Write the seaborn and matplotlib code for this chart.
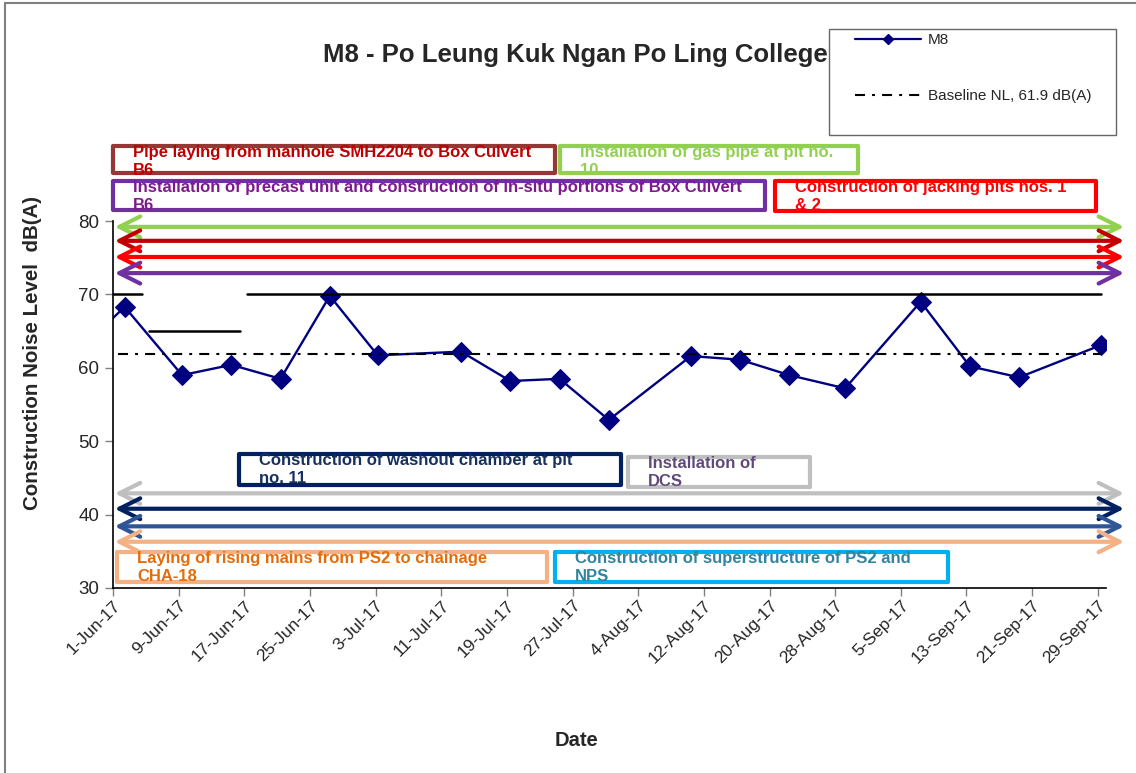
import numpy as np
import pandas as pd
import matplotlib.pyplot as plt
import matplotlib.dates as mdates
from matplotlib.patches import Rectangle
from matplotlib.lines import Line2D
import seaborn as sns

sns.set_theme(style="white")
plt.rcParams['font.family'] = ['Liberation Sans', 'DejaVu Sans']

# M8 noise measurements (first one is from May, it gets clipped at the axis)
m8_dates = ["2017-05-26 10:00", "2017-06-02 10:00", "2017-06-09 10:00", "2017-06-15 10:00",
            "2017-06-21 10:00", "2017-06-27 10:00", "2017-07-03 06:00", "2017-07-13 10:00",
            "2017-07-19 10:00", "2017-07-25 10:00", "2017-07-31 10:00", "2017-08-10 10:00",
            "2017-08-16 10:00", "2017-08-22 10:00", "2017-08-29 05:00", "2017-09-07 10:00",
            "2017-09-13 10:00", "2017-09-19 10:00", "2017-09-29 10:00"]
m8_levels = [60.8, 68.3, 59.0, 60.4, 58.5, 69.8, 61.7, 62.2, 58.2, 58.5, 52.9,
             61.6, 61.1, 59.0, 57.2, 69.0, 60.2, 58.7, 63.1]

# noise limit (65 dB(A) during the exam period)
limit_starts = ["2017-05-26 10:00", "2017-06-05 10:00", "2017-06-17 08:00"]
limit_ends = ["2017-06-04 12:00", "2017-06-16 10:00", "2017-09-29 10:00"]
limit_levels = [70, 65, 70]

baseline_level = 61.9
baseline_start = "2017-06-01 14:00"
baseline_end = "2017-09-29 10:00"

# construction activities shown as boxes
activity_labels = [
    "Pipe laying from manhole SMH2204 to Box Culvert\nB6",
    "Installation of gas pipe at pit no.\n10",
    "Installation of precast unit and construction of in-situ portions of Box Culvert\nB6",
    "Construction of jacking pits nos. 1\n& 2",
    "Construction of washout chamber at pit\nno. 11",
    "Installation of\nDCS",
    "Laying of rising mains from PS2 to chainage\nCHA-18",
    "Construction of superstructure of PS2 and\nNPS",
]
activity_text_colors = ["#C00000", "#92D050", "#7F1A8C", "#FF0000",
                        "#17305E", "#604A7B", "#E46C0A", "#31859C"]
activity_box_colors = ["#953735", "#92D050", "#7030A0", "#FF0000",
                       "#002060", "#BFBFBF", "#F4B183", "#00B0F0"]
# box layout in pixels: left, top, right, bottom
box_px = [(113, 146, 555, 173), (560, 146, 858, 173), (113, 181, 765, 210), (775, 181, 1096, 211),
          (239, 454, 621, 485), (628, 457, 810, 487), (117, 552, 547, 582), (555, 552, 948, 582)]

# period arrows
arrow_colors = ["#92D050", "#C00000", "#FF0000", "#7030A0",
                "#BFBFBF", "#002060", "#2F5597", "#F4B183"]
arrow_levels = [79.2, 77.3, 75.1, 72.9, 42.9, 40.8, 38.4, 36.3]
arrow_start = "2017-06-01 05:00"
arrow_end = "2017-10-02 05:00"

W, H = 1136, 773
fig = plt.figure(figsize=(W / 100, H / 100), dpi=100)
ax = fig.add_axes([113 / W, 1 - 588 / H, (1106 - 113) / W, (588 - 221) / H])

def fx(x):
    return x / W

def fy(y):
    return 1 - y / H

# M8 series
sns.lineplot(x=pd.to_datetime(m8_dates), y=m8_levels, ax=ax, color="#000080",
             marker="D", markersize=10, markeredgecolor="#000080", lw=1.7, legend=False)

# limit lines
limit_df = pd.DataFrame({
    "date": pd.to_datetime(limit_starts + limit_ends),
    "level": limit_levels + limit_levels,
    "seg": list(range(3)) + list(range(3)),
})
sns.lineplot(data=limit_df, x="date", y="level", units="seg", estimator=None,
             color="black", lw=1.8, ax=ax, legend=False)

# baseline
base_df = pd.DataFrame({"date": pd.to_datetime([baseline_start, baseline_end]),
                        "level": [baseline_level, baseline_level]})
sns.lineplot(data=base_df, x="date", y="level", color="black", lw=1.5, ax=ax, legend=False)
ax.lines[-1].set_dashes((4.8, 3.4, 1.4, 3.4))

# arrows
a0 = mdates.date2num(pd.Timestamp(arrow_start))
a1 = mdates.date2num(pd.Timestamp(arrow_end))
for lvl, c in zip(arrow_levels, arrow_colors):
    ax.annotate("", xy=(a1, lvl), xytext=(a0, lvl), annotation_clip=False,
                arrowprops=dict(arrowstyle="<->,head_length=1.0,head_width=0.5", color=c,
                                lw=3, mutation_scale=15, shrinkA=0, shrinkB=0))

# axes
ax.set_xlim(pd.Timestamp("2017-06-01"), pd.Timestamp("2017-09-30"))
ax.set_ylim(30, 80)
ax.set_yticks(range(30, 81, 10))
tick_dates = pd.date_range("2017-06-01", "2017-09-29", freq="8D")
ax.set_xticks(tick_dates)
ax.set_xticklabels([f"{d.day}-{d.strftime('%b-%y')}" for d in tick_dates],
                   rotation=45, ha="right", rotation_mode="anchor", fontsize=12.5)
ax.tick_params(axis="y", labelsize=13.5, length=6, width=1, color="#808080", pad=4, left=True)
ax.tick_params(axis="x", length=6, width=1, color="#808080", pad=1, bottom=True)
ax.set_xlabel("")
ax.set_ylabel("")
for s in ["top", "right"]:
    ax.spines[s].set_visible(False)
for s in ["left", "bottom"]:
    ax.spines[s].set_color("black")
    ax.spines[s].set_linewidth(1.2)
ax.grid(False)

# activity boxes
for lab, tc, bc, (l, t, r, b) in zip(activity_labels, activity_text_colors, activity_box_colors, box_px):
    fig.add_artist(Rectangle((fx(l), fy(b)), fx(r) - fx(l), fy(t) - fy(b), transform=fig.transFigure,
                             facecolor="white", edgecolor=bc, lw=3, joinstyle="round", zorder=3))
    fig.text(fx(l + 20), fy(t - 1), lab, color=tc, fontsize=12, fontweight="bold",
             ha="left", va="top", linespacing=1.25, zorder=4)

# legend
fig.add_artist(Rectangle((fx(829), fy(135)), fx(1116) - fx(829), fy(29) - fy(135),
                         transform=fig.transFigure, facecolor="white", edgecolor="#666666", lw=1, zorder=3))
handles = [Line2D([], [], color="#000080", marker="D", markersize=5, lw=1.6),
           Line2D([], [], color="black", lw=1.5, dashes=(4.8, 3.4, 1.4, 3.4))]
leg = fig.legend(handles, ["M8", "Baseline NL, 61.9 dB(A)"], loc="upper left",
                 bbox_to_anchor=(fx(855), fy(33)), frameon=False, fontsize=11,
                 handlelength=4.3, handletextpad=0.45, labelspacing=2.75,
                 borderpad=0, borderaxespad=0)
leg.set_zorder(5)

# texts
fig.text(fx(575), fy(55), "M8 - Po Leung Kuk Ngan Po Ling College", ha="center", va="center",
         fontsize=18.5, fontweight="bold")
fig.text(fx(33), fy(353), "Construction Noise Level  dB(A)", ha="center", va="center",
         rotation=90, fontsize=14.8, fontweight="bold")
fig.text(fx(577), fy(740), "Date", ha="center", va="center", fontsize=14.5, fontweight="bold")

# outer frame
fig.add_artist(Rectangle((fx(5), -0.1), 1.2, fy(3) + 0.1, transform=fig.transFigure,
                         fill=False, edgecolor="#7f7f7f", lw=1.5, zorder=6))

fig.savefig("out.png", dpi=100)
